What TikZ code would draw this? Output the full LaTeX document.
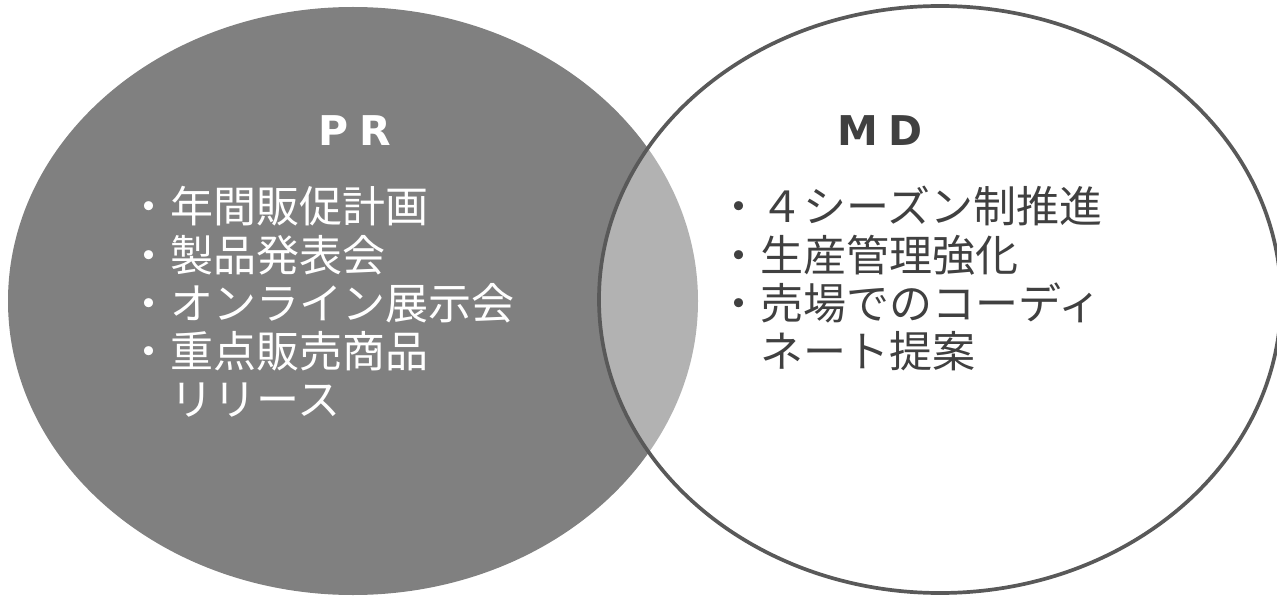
\documentclass[tikz,border=0pt]{standalone}
\usepackage{fontspec}
\newfontfamily\jp{Noto Sans CJK JP}
\newfontfamily\lat{DejaVu Sans}
\definecolor{fillgray}{HTML}{808080}
\definecolor{linegray}{HTML}{595959}
\definecolor{textgray}{HTML}{404040}
\begin{document}
\begin{tikzpicture}[x=1pt,y=-1pt,
  head/.style={inner sep=0pt, font=\lat\bfseries\fontsize{41}{44}\selectfont},
  body/.style={inner sep=0pt, anchor=base west, font=\jp\fontsize{43}{49}\selectfont},
  prtext/.style={body, text=white},
  mdtext/.style={body, text=textgray}]
\useasboundingbox (0,0) rectangle (1277,596);
\fill[fillgray] (353,301) ellipse [x radius=345, y radius=294];
\fill[white, opacity=0.4] (940,299.5) ellipse [x radius=341, y radius=293.5];
\draw[linegray, line width=3.7pt] (940,299.5) ellipse [x radius=341, y radius=293.5];
\node[head, text=white] (pr) at (355,131) {P\hspace{11pt}R};
\node[head, text=textgray] (md) at (880,131) {M\hspace{11pt}D};
\node[prtext] (p1) at (127,223) {・年間販促計画};
\node[prtext] (p2) at (127,271) {・製品発表会};
\node[prtext] (p3) at (127,319) {・オンライン展示会};
\node[prtext] (p4) at (127,367) {・重点販売商品};
\node[prtext] (p5) at (127,415) {\phantom{・}リリース};
\node[mdtext] (m1) at (717,223) {・４シーズン制推進};
\node[mdtext] (m2) at (717,271) {・生産管理強化};
\node[mdtext] (m3) at (717,319) {・売場でのコーディ};
\node[mdtext] (m4) at (717,367) {\phantom{・}ネート提案};
\end{tikzpicture}
\end{document}
